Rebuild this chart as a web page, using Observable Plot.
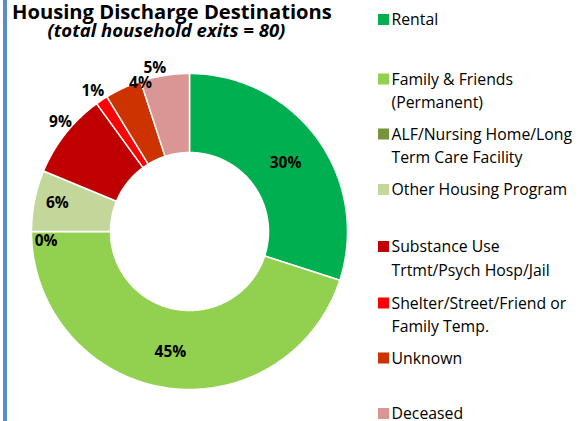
<!DOCTYPE html>
<html>
<head>
<meta charset="utf-8">
<script src="https://cdn.jsdelivr.net/npm/d3@7"></script>
<script src="https://cdn.jsdelivr.net/npm/@observablehq/plot@0.6"></script>
<style>
  html, body { margin: 0; padding: 0; background: #fff; }
  #wrap { position: relative; width: 581px; height: 421px; overflow: hidden; font-family: "Open Sans", Lato, sans-serif; color: #000; }
  #bar { position: absolute; left: 3px; top: 0; width: 4px; height: 421px; background: #5b8cca; }
  #chart, #overlay { position: absolute; left: 0; top: 0; }
</style>
</head>
<body>
<div id="wrap">
  <div id="bar"></div>
  <div id="chart"></div>
  <svg id="overlay" width="581" height="421"></svg>
</div>
<script>
// ---- data ----
const categories = [
  "Rental",
  "Family & Friends (Permanent)",
  "ALF/Nursing Home/Long Term Care Facility",
  "Other Housing Program",
  "Substance Use Trtmt/Psych Hosp/Jail",
  "Shelter/Street/Friend or Family Temp.",
  "Unknown",
  "Deceased"
];
const legendLines = [
  ["Rental"],
  ["Family & Friends", "(Permanent)"],
  ["ALF/Nursing Home/Long", "Term Care Facility"],
  ["Other Housing Program"],
  ["Substance Use", "Trtmt/Psych Hosp/Jail"],
  ["Shelter/Street/Friend or", "Family Temp."],
  ["Unknown"],
  ["Deceased"]
];
const exits = [24, 36, 0, 5, 7, 1, 3, 4];
const totalExits = 80;
const titleText = "Housing Discharge Destinations";
const subtitleText = "(total household exits = 80)";

// ---- styling / layout ----
const colors = ["#00b050", "#92d050", "#77933c", "#c4d79b", "#c00000", "#ff0000", "#cc3300", "#da9694"];
const labelRadius = [0.745, 0.77, 0.91, 0.855, 1.07, 1.08, 0.99, 1.055];
const labelAngleShift = [0.7, 0, -4, 0.75, 2, -0.75, 6.5, -3];
const legendTops = [14, 73.5, 128.5, 184, 241, 297.5, 352.5, 408];
const innerRatio = 0.5;

// ---- geometry from data ----
const total = d3.sum(exits);
const pies = [];
let acc = 0;
exits.forEach((v, i) => {
  const a0 = acc / total * 360;
  acc += v;
  const a1 = acc / total * 360;
  pies.push({cat: categories[i], a0, a1, v, i});
});
const rad = d => d * Math.PI / 180;
const ring = [];
for (const p of pies) {
  const n = Math.max(2, Math.ceil((p.a1 - p.a0) * 2));
  for (let k = 0; k <= n; k++) {
    const a = rad(p.a0 + (p.a1 - p.a0) * k / n);
    ring.push({cat: p.cat, x: Math.sin(a), y: Math.cos(a)});
  }
  for (let k = n; k >= 0; k--) {
    const a = rad(p.a0 + (p.a1 - p.a0) * k / n);
    ring.push({cat: p.cat, x: innerRatio * Math.sin(a), y: innerRatio * Math.cos(a)});
  }
}
const labels = pies.map(p => {
  const a = rad((p.a0 + p.a1) / 2 + labelAngleShift[p.i]);
  const r = labelRadius[p.i];
  return {cat: p.cat, x: r * Math.sin(a), y: r * Math.cos(a), text: Math.round(p.v / totalExits * 100) + "%"};
});

const chart = Plot.plot({
  width: 581,
  height: 421,
  marginLeft: 31,
  marginRight: 234,
  marginTop: 73,
  marginBottom: 32,
  x: {domain: [-1, 1], axis: null},
  y: {domain: [-1, 1], axis: null},
  color: {domain: categories, range: colors},
  style: {background: "transparent", overflow: "visible"},
  marks: [
    Plot.line(ring, {x: "x", y: "y", z: "cat", fill: "cat", stroke: "white", strokeWidth: 1.5, curve: "linear-closed"}),
    Plot.text(labels, {x: "x", y: "y", text: "text", fontSize: 15.5, fontWeight: "bold", fill: "black", fontFamily: "'Open Sans', sans-serif"})
  ]
});
document.getElementById("chart").appendChild(chart);

// ---- title, subtitle, legend ----
const ov = d3.select("#overlay").style("font-family", "'Open Sans', Lato, sans-serif");
function fitText(sel, targetWidth, baseSize) {
  const w = sel.node().getComputedTextLength();
  if (w > 0) sel.attr("font-size", baseSize * targetWidth / w);
}
const t = ov.append("text").attr("x", 12).attr("y", 18.7)
  .attr("font-size", 20).attr("font-weight", 700).text(titleText);
fitText(t, 320, 20);
const st = ov.append("text").attr("x", 47.5).attr("y", 37)
  .attr("font-size", 16).attr("font-weight", 700).attr("font-style", "italic").text(subtitleText);
fitText(st, 238, 16);

categories.forEach((c, i) => {
  const top = legendTops[i];
  ov.append("rect").attr("x", 378).attr("y", top).attr("width", 11).attr("height", 11).attr("fill", colors[i]);
  const tx = ov.append("text").attr("x", 391.5).attr("y", top + 11).attr("font-size", 15.8);
  legendLines[i].forEach((line, k) => {
    tx.append("tspan").attr("x", 391.5).attr("y", top + 11 + k * 23.5).text(line);
  });
});
</script>
</body>
</html>
